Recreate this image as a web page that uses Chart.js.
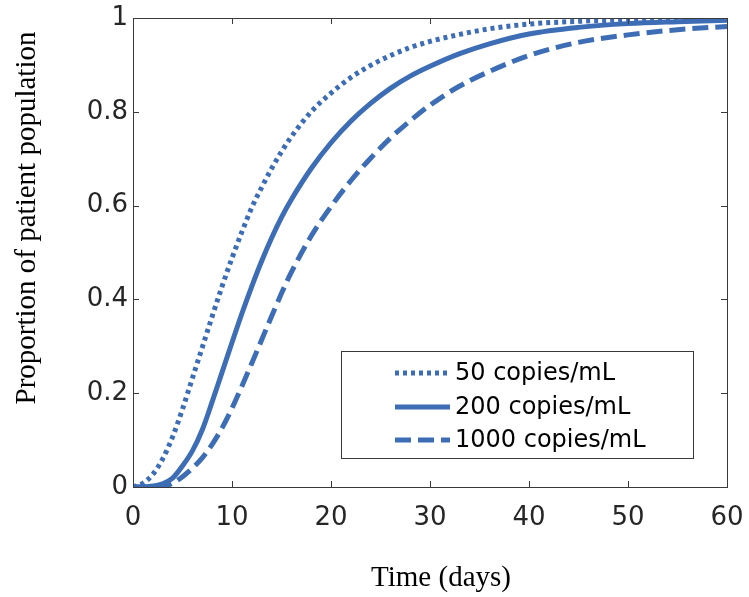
<!DOCTYPE html>
<html>
<head>
<meta charset="utf-8">
<script src="https://cdn.jsdelivr.net/npm/chart.js@4.4.1/dist/chart.umd.min.js"></script>
<style>
  html, body { margin: 0; padding: 0; background: #ffffff; }
  #wrap { position: relative; width: 749px; height: 597px; }
</style>
</head>
<body>
<div id="wrap"><canvas id="c" width="749" height="597"></canvas></div>
<script>
// ---- data ----
const timeDays = [0, 1, 2, 3, 4, 5, 6, 7, 8, 9, 10, 11, 12, 13, 14, 15, 16, 18, 20, 22, 24, 26, 28, 30, 33, 36, 40, 45, 50, 55, 60];
const prop50   = [0, 0.008, 0.027, 0.060, 0.107, 0.166, 0.232, 0.298, 0.364, 0.428, 0.488, 0.544, 0.596, 0.639, 0.679, 0.715, 0.747, 0.800, 0.840, 0.873, 0.899, 0.920, 0.937, 0.950, 0.965, 0.977, 0.987, 0.993, 0.996, 0.998, 0.999];
const prop200  = [0, 0.000, 0.002, 0.007, 0.019, 0.045, 0.077, 0.122, 0.182, 0.245, 0.308, 0.370, 0.428, 0.482, 0.531, 0.575, 0.613, 0.679, 0.734, 0.780, 0.818, 0.850, 0.876, 0.897, 0.924, 0.945, 0.966, 0.980, 0.988, 0.992, 0.995];
const prop1000 = [0, 0.000, 0.000, 0.001, 0.008, 0.022, 0.040, 0.062, 0.091, 0.126, 0.168, 0.215, 0.264, 0.314, 0.364, 0.413, 0.458, 0.535, 0.598, 0.653, 0.701, 0.744, 0.781, 0.814, 0.855, 0.886, 0.920, 0.948, 0.964, 0.975, 0.982];
const seriesLabels = ['50 copies/mL', '200 copies/mL', '1000 copies/mL'];
const xTickValues = [0, 10, 20, 30, 40, 50, 60];
const yTickValues = [0, 0.2, 0.4, 0.6, 0.8, 1];
const xTitle = 'Time (days)';
const yTitle = 'Proportion of patient population';

// ---- styling ----
const BLUE = '#3d6db5';
const AXIS = '#3a3a3a';
const TICKTXT = '#262626';
const dashes = [[4, 4], [], [16, 7]];

function toPoints(ys) { return timeDays.map((t, i) => ({ x: t, y: ys[i] })); }

const decor = {
  id: 'decor',
  afterDraw(chart) {
    const ctx = chart.ctx;
    const a = chart.chartArea;
    const xs = chart.scales.x, ys = chart.scales.y;
    ctx.save();
    // frame
    ctx.strokeStyle = AXIS;
    ctx.lineWidth = 1;
    ctx.setLineDash([]);
    ctx.strokeRect(Math.round(a.left) + 0.5, Math.round(a.top) + 0.5,
                   Math.round(a.right - a.left), Math.round(a.bottom - a.top));
    // inward ticks on all sides
    const tl = 6;
    ctx.beginPath();
    xTickValues.forEach(v => {
      const px = Math.round(xs.getPixelForValue(v)) + 0.5;
      ctx.moveTo(px, a.bottom); ctx.lineTo(px, a.bottom - tl);
      ctx.moveTo(px, a.top); ctx.lineTo(px, a.top + tl);
    });
    yTickValues.forEach(v => {
      const py = Math.round(ys.getPixelForValue(v)) + 0.5;
      ctx.moveTo(a.left, py); ctx.lineTo(a.left + tl, py);
      ctx.moveTo(a.right, py); ctx.lineTo(a.right - tl, py);
    });
    ctx.stroke();

    // legend box
    const lx = 341, ly = 351, lw = 352, lh = 107;
    ctx.fillStyle = '#ffffff';
    ctx.fillRect(lx, ly, lw, lh);
    ctx.strokeStyle = AXIS;
    ctx.lineWidth = 1;
    ctx.strokeRect(lx + 0.5, ly + 0.5, lw, lh);
    const rowY = [373, 407, 440];
    ctx.font = '24px "DejaVu Sans"';
    ctx.textBaseline = 'middle';
    ctx.textAlign = 'left';
    chart.data.datasets.forEach((ds, i) => {
      ctx.strokeStyle = ds.borderColor;
      ctx.lineWidth = ds.borderWidth;
      ctx.setLineDash(ds.borderDash || []);
      ctx.lineCap = 'butt';
      ctx.beginPath();
      ctx.moveTo(395, rowY[i]); ctx.lineTo(450, rowY[i]);
      ctx.stroke();
      ctx.setLineDash([]);
      ctx.fillStyle = '#000000';
      ctx.fillText(ds.label, 455, rowY[i] + 1);
    });

    // axis titles
    ctx.fillStyle = '#000000';
    ctx.font = '29px "Liberation Serif"';
    ctx.textAlign = 'center';
    ctx.textBaseline = 'middle';
    ctx.fillText(xTitle, 441, 578);
    ctx.translate(27, 218);
    ctx.rotate(-Math.PI / 2);
    ctx.fillText(yTitle, 0, 0);
    ctx.restore();
  }
};

new Chart(document.getElementById('c'), {
  type: 'line',
  data: {
    datasets: [
      { label: seriesLabels[0], data: toPoints(prop50), borderColor: BLUE, borderWidth: 5, borderDash: dashes[0], pointRadius: 0, fill: false, cubicInterpolationMode: 'monotone' },
      { label: seriesLabels[1], data: toPoints(prop200), borderColor: BLUE, borderWidth: 5, borderDash: dashes[1], pointRadius: 0, fill: false, cubicInterpolationMode: 'monotone' },
      { label: seriesLabels[2], data: toPoints(prop1000), borderColor: BLUE, borderWidth: 5, borderDash: dashes[2], pointRadius: 0, fill: false, cubicInterpolationMode: 'monotone' }
    ]
  },
  options: {
    responsive: false,
    animation: false,
    layout: { padding: { left: 0, right: 22, top: 18, bottom: 0 } },
    plugins: { legend: { display: false }, tooltip: { enabled: false } },
    scales: {
      x: {
        type: 'linear', min: 0, max: 60,
        afterBuildTicks: s => { s.ticks = xTickValues.map(v => ({ value: v })); },
        afterFit: s => { s.height = 110; s.paddingLeft = 0; s.paddingRight = 0; },
        grid: { display: false, drawTicks: false },
        border: { display: false },
        ticks: { color: TICKTXT, font: { family: 'DejaVu Sans', size: 26 }, padding: 16, maxRotation: 0,
                 callback: v => String(v) }
      },
      y: {
        type: 'linear', min: 0, max: 1,
        afterBuildTicks: s => { s.ticks = yTickValues.map(v => ({ value: v })); },
        afterFit: s => { s.width = 133; s.paddingTop = 0; s.paddingBottom = 0; },
        grid: { display: false, drawTicks: false },
        border: { display: false },
        ticks: { color: TICKTXT, font: { family: 'DejaVu Sans', size: 26 }, padding: 5,
                 callback: v => String(Math.round(v * 10) / 10) }
      }
    }
  },
  plugins: [decor]
});
</script>
</body>
</html>
